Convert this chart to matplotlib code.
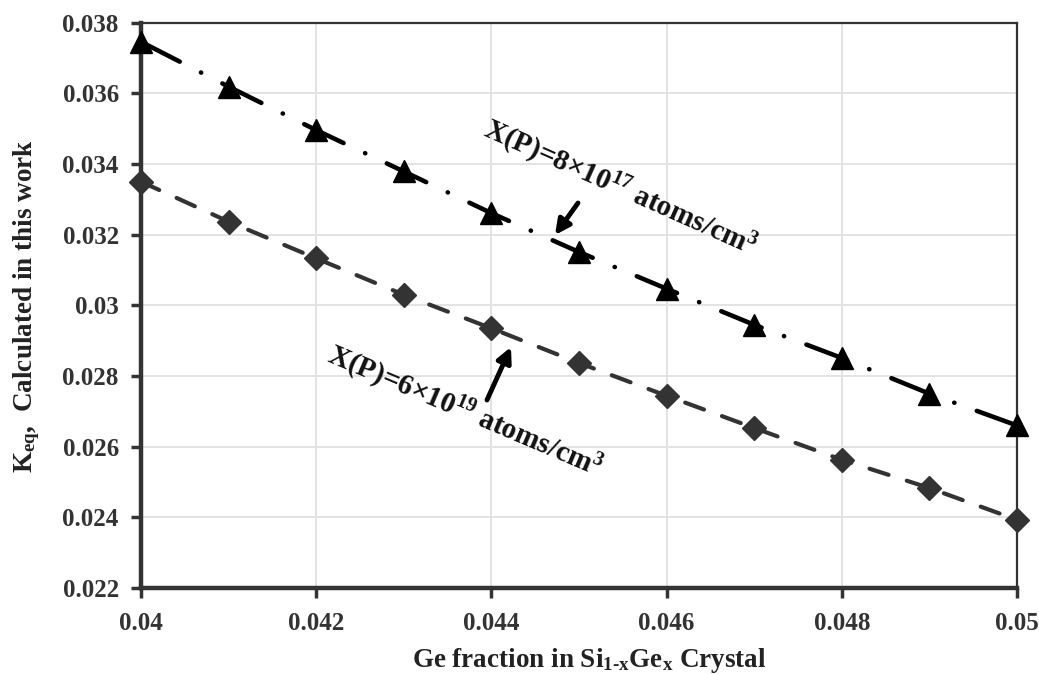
import matplotlib
matplotlib.use("Agg")
import matplotlib.pyplot as plt
import numpy as np

# ---- data ----
ge_fraction = [0.040, 0.041, 0.042, 0.043, 0.044, 0.045, 0.046, 0.047, 0.048, 0.049, 0.050]
keq_8e17 = [0.03746, 0.03619, 0.03496, 0.03379, 0.03261, 0.03151, 0.03047, 0.02945, 0.02851, 0.02750, 0.02660]
keq_6e19 = [0.03350, 0.03237, 0.03133, 0.03030, 0.02935, 0.02837, 0.02744, 0.02653, 0.02563, 0.02483, 0.02393]
x_ticks = [0.04, 0.042, 0.044, 0.046, 0.048, 0.05]
x_ticklabels = ["0.04", "0.042", "0.044", "0.046", "0.048", "0.05"]
y_ticks = [0.022, 0.024, 0.026, 0.028, 0.03, 0.032, 0.034, 0.036, 0.038]
y_ticklabels = ["0.022", "0.024", "0.026", "0.028", "0.03", "0.032", "0.034", "0.036", "0.038"]

plt.rcParams['font.family'] = ['Liberation Serif', 'DejaVu Serif']
plt.rcParams['font.weight'] = 'bold'
plt.rcParams['mathtext.fontset'] = 'custom'
plt.rcParams['mathtext.rm'] = 'Liberation Serif:bold'
plt.rcParams['mathtext.it'] = 'Liberation Serif:bold'
plt.rcParams['mathtext.bf'] = 'Liberation Serif:bold'
plt.rcParams['mathtext.default'] = 'rm'

dark = '#333333'
fig = plt.figure(figsize=(10.39, 6.74), dpi=100)
ax = fig.add_axes([0.1357, 0.1276, 0.8431, 0.8387])

ax.grid(True, color='#e3e3e3', linewidth=1.4, zorder=0)
ax.set_axisbelow(True)

l1, = ax.plot(ge_fraction, keq_8e17, color='black', linewidth=3.3,
              marker='^', markersize=15.5, markerfacecolor='black', markeredgecolor='black',
              zorder=4, clip_on=False, dash_capstyle='round')
l1.set_dashes([9.5, 5.2, 0.05, 5.2])

l2, = ax.plot(ge_fraction, keq_6e19, color=dark, linewidth=3.0,
              marker='D', markersize=12, markerfacecolor=dark, markeredgecolor=dark,
              zorder=4, clip_on=False, dash_capstyle='round')
l2.set_dashes([4.8, 4.6])

ax.set_xlim(0.04, 0.05)
ax.set_ylim(0.022, 0.038)
ax.set_xticks(x_ticks)
ax.set_xticklabels(x_ticklabels)
ax.set_yticks(y_ticks)
ax.set_yticklabels(y_ticklabels)

for lab in ax.get_xticklabels() + ax.get_yticklabels():
    lab.set_fontsize(18)
    lab.set_fontweight('bold')
    lab.set_color(dark)

ax.tick_params(axis='y', direction='out', length=7, width=2.5, color=dark, pad=9)
ax.tick_params(axis='x', direction='out', length=7, width=2.5, color=dark, pad=10)
ax.spines['left'].set_linewidth(3.2)
ax.spines['left'].set_color(dark)
ax.spines['bottom'].set_linewidth(3.2)
ax.spines['bottom'].set_color(dark)
ax.spines['top'].set_linewidth(1.6)
ax.spines['top'].set_color(dark)
ax.spines['right'].set_linewidth(1.6)
ax.spines['right'].set_color(dark)

fig.text(0.5675, 1 - 667 / 674, r"Ge fraction in Si$_{\mathrm{1\text{-}x}}$Ge$_{\mathrm{x}}$ Crystal",
         ha='center', va='baseline', fontsize=19.5, fontweight='bold', color='#222222')
fig.text(0.026, 0.5465, r"K$_{\mathrm{eq}}$,  Calculated in this work",
         rotation=90, ha='center', va='center', fontsize=19.5, fontweight='bold', color='#222222')

# annotations placed via data coordinates
def px_to_data(px, py):
    xd = 0.04 + (px - 141) / (1017 - 141) * 0.01
    yd = 0.038 - (py - 22.7) / (588 - 22.7) * 0.016
    return xd, yd

tx, ty = px_to_data(620, 188)
ax.text(tx, ty, r"X(P)=8×10$^{17}$ atoms/cm$^{3}$", rotation=-24, rotation_mode='anchor',
        ha='center', va='center', fontsize=21, fontweight='bold', color='#111111', zorder=5)
tx, ty = px_to_data(465, 412)
ax.text(tx, ty, r"X(P)=6×10$^{19}$ atoms/cm$^{3}$", rotation=-23, rotation_mode='anchor',
        ha='center', va='center', fontsize=21, fontweight='bold', color='#111111', zorder=5)

ax.annotate("", xy=px_to_data(555, 235), xytext=px_to_data(578, 203),
            arrowprops=dict(arrowstyle='-|>', color='black', lw=3.5, mutation_scale=22,
                            shrinkA=0, shrinkB=0), zorder=5)
ax.annotate("", xy=px_to_data(511, 347), xytext=px_to_data(487, 400),
            arrowprops=dict(arrowstyle='-|>', color='black', lw=3.5, mutation_scale=22,
                            shrinkA=0, shrinkB=0), zorder=5)

fig.savefig("out.png", dpi=100)
